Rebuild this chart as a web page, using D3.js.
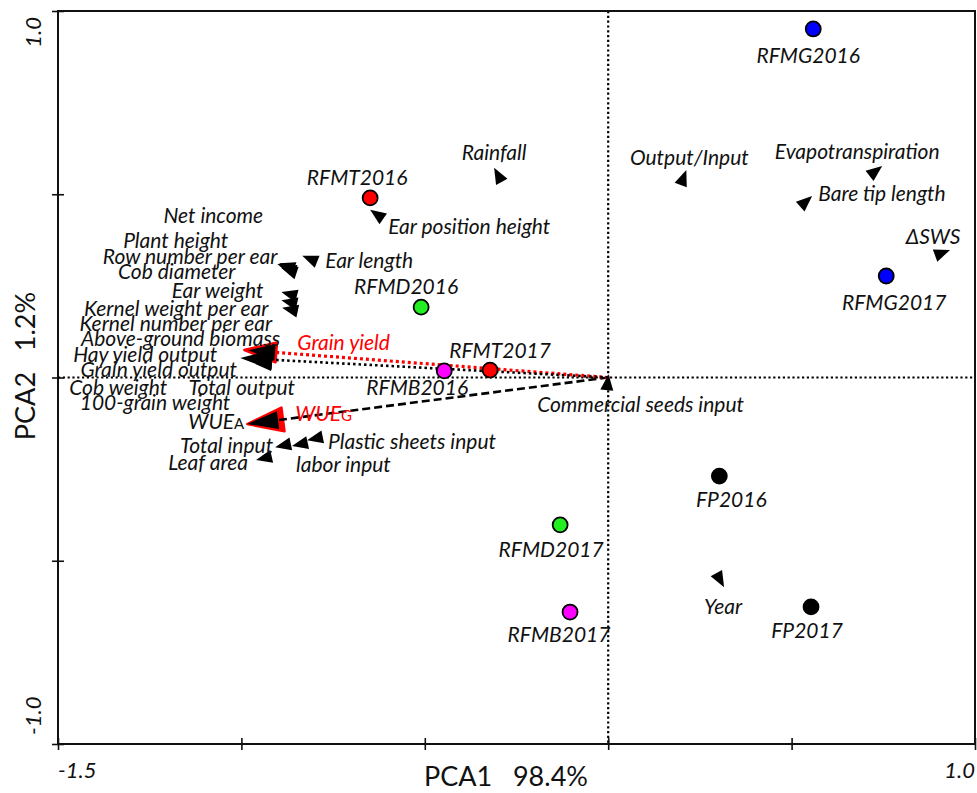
<!DOCTYPE html>
<html>
<head>
<meta charset="utf-8">
<script src="https://cdn.jsdelivr.net/npm/d3@7"></script>
<style>
  html, body { margin: 0; padding: 0; background: #fff; }
  svg { display: block; }
  text { font-family: Lato, "Open Sans", sans-serif; }
</style>
</head>
<body>
<svg id="chart" width="977" height="793"></svg>
<script>
// ---------------- DATA ----------------
const xTicks = [-1.5, -1.0, -0.5, 0, 0.5, 1.0];
const xTickLabels = ["-1.5", "", "", "", "", "1.0"];
const yTicks = [-1.0, -0.5, 0, 0.5, 1.0];
const yTickLabels = ["-1.0", "", "", "", "1.0"];
const xTitle = "PCA1   98.4%";
const yTitle = "PCA2   1.2%";

// sample (site) scores
const siteNames = ["RFMG2016", "RFMG2017", "RFMT2016", "RFMT2017", "RFMB2016",
                   "RFMD2016", "RFMD2017", "RFMB2017", "FP2016", "FP2017"];
const siteX = [0.559, 0.758, -0.649, -0.322, -0.447, -0.510, -0.131, -0.104, 0.303, 0.553];
const siteY = [0.951, 0.277, 0.490, 0.020, 0.018, 0.192, -0.402, -0.640, -0.269, -0.626];
const siteGroup = ["RFMG", "RFMG", "RFMT", "RFMT", "RFMB", "RFMD", "RFMD", "RFMB", "FP", "FP"];

// variable (arrow) scores
const varNames = ["Rainfall", "Output/Input", "Evapotranspiration", "Bare tip length", "ΔSWS",
  "Ear position height", "Ear length", "Net income", "Plant height", "Row number per ear",
  "Cob diameter", "Ear weight", "Kernel weight per ear", "Kernel number per ear",
  "Above-ground biomass", "Grain yield output", "Cob weight", "Total output", "100-grain weight",
  "Hay yield output", "Grain yield", "WUEG", "WUEA",
  "Total input", "labor input", "Plastic sheets input", "Leaf area",
  "Commercial seeds input", "Year"];
const varX = [-0.311, 0.213, 0.747, 0.556, 0.932,
  -0.649, -0.834, -0.897, -0.894, -0.902,
  -0.891, -0.891, -0.891, -0.889,
  -0.976, -0.971, -0.965, -0.960, -0.962,
  -1.003, -0.992, -0.984, -0.984,
  -0.908, -0.862, -0.821, -0.960,
  0.001, 0.316];
const varY = [0.572, 0.566, 0.577, 0.495, 0.348,
  0.458, 0.332, 0.312, 0.304, 0.310,
  0.299, 0.233, 0.211, 0.190,
  0.070, 0.048, 0.042, 0.053, 0.037,
  0.053, 0.075, -0.127, -0.127,
  -0.190, -0.187, -0.171, -0.225,
  0.009, -0.572];

// ---------------- STYLE / LAYOUT ----------------
const groupColor = { RFMG: "#0000ff", RFMT: "#ff0000", RFMB: "#ff00ff", RFMD: "#22ee22", FP: "#000000" };
const LABEL_SIZE = 21;

// label offsets from the point (px): [dx, dy, anchor]
const siteLabel = {
  RFMG2016: [-5, 26, "middle"], RFMG2017: [8, 26, "middle"], RFMT2016: [-13, -21, "middle"],
  RFMT2017: [10, -21, "middle"], RFMB2016: [-27, 16, "middle"], RFMD2016: [-15, -22, "middle"],
  RFMD2017: [-9, 24, "middle"], RFMB2017: [-11, 21, "middle"], FP2016: [12, 22, "middle"],
  FP2017: [-4, 23, "middle"]
};
const varLabel = {
  "Rainfall": [0, -16, "middle"], "Output/Input": [3, -14, "middle"],
  "Evapotranspiration": [-25, -16, "middle"], "Bare tip length": [6, -4, "start"],
  "ΔSWS": [-17, -14, "middle"], "Ear position height": [18, 16, "start"],
  "Ear length": [23, 4, "start"], "Net income": [-16, -49, "end"],
  "Plant height": [-52, -27, "end"], "Row number per ear": [0, -8, "end"],
  "Cob diameter": [-46, 3, "end"], "Ear weight": [-18, -3, "end"],
  "Kernel weight per ear": [-13, 7, "end"], "Kernel number per ear": [-10, 15, "end"],
  "Above-ground biomass": [30, -14, "end"], "Grain yield output": [-15, 9, "end"],
  "Cob weight": [-87, 24, "end"], "Total output": [39, 28, "end"],
  "100-grain weight": [-25, 38, "end"], "Hay yield output": [-23, -5, "end"],
  "Grain yield": [53, -9, "start"], "WUEG": [48, -12, "start"], "WUEA": [-3, -4, "end"],
  "Total input": [-2, -3, "end"], "labor input": [4, 17, "start"],
  "Plastic sheets input": [21, 0, "start"], "Leaf area": [-8, 2, "end"],
  "Commercial seeds input": [32, 29, "middle"], "Year": [-1, 18, "middle"]
};
// highlighted arrows
const bigArrow = {
  "Hay yield output": { line: "#000", dash: "2.5,3", head: "#000", stroke: "none", L: 32, W: 10 },
  "Grain yield": { line: "#ff0000", dash: "3,3", head: "#000", stroke: "#ff0000", L: 32, W: 10 },
  "WUEG": { line: null, head: "#ff0000", stroke: "#ff0000", L: 36, W: 12 },
  "WUEA": { line: "#000", dash: "8,4", head: "#000", stroke: "none", L: 31, W: 9 }
};
const redLabels = new Set(["Grain yield", "WUEG"]);
const subscriptNames = { "WUEG": ["WUE", "G"], "WUEA": ["WUE", "A"] };

// ---------------- DRAW ----------------
const svg = d3.select("#chart");
const x = d3.scaleLinear().domain([-1.5, 1.0]).range([58, 975]);
const y = d3.scaleLinear().domain([-1.0, 1.0]).range([744, 11]);
const ox = x(0), oy = y(0);

// zero lines (dotted)
svg.append("line").attr("x1", ox).attr("x2", ox).attr("y1", y(1)).attr("y2", y(-1))
  .attr("stroke", "#000").attr("stroke-width", 2.2).attr("stroke-dasharray", "2.2,2.6");
svg.append("line").attr("x1", x(-1.5)).attr("x2", x(1.0)).attr("y1", oy).attr("y2", oy)
  .attr("stroke", "#000").attr("stroke-width", 2.2).attr("stroke-dasharray", "2.2,2.6");

// frame
svg.append("rect").attr("x", x(-1.5)).attr("y", y(1)).attr("width", x(1) - x(-1.5))
  .attr("height", y(-1) - y(1)).attr("fill", "none").attr("stroke", "#111").attr("stroke-width", 2);

// axis ticks (crossing the frame lines)
const xAxisG = svg.append("g").attr("transform", `translate(0,${y(-1) - 6})`)
  .call(d3.axisBottom(x).tickValues(xTicks).tickSize(12).tickFormat(""));
xAxisG.select(".domain").remove();
xAxisG.selectAll(".tick line").attr("stroke", "#111").attr("stroke-width", 1.6);
const yAxisG = svg.append("g").attr("transform", `translate(${x(-1.5) + 6},0)`)
  .call(d3.axisLeft(y).tickValues(yTicks).tickSize(12).tickFormat(""));
yAxisG.select(".domain").remove();
yAxisG.selectAll(".tick line").attr("stroke", "#111").attr("stroke-width", 1.6);

// tick labels (only ends)
xTicks.forEach((t, i) => {
  if (!xTickLabels[i]) return;
  svg.append("text").attr("x", x(t)).attr("y", 778)
    .attr("text-anchor", i === 0 ? "start" : "end")
    .attr("font-size", 22).attr("font-style", "italic").attr("fill", "#111")
    .text(xTickLabels[i]);
});
yTicks.forEach((t, i) => {
  if (!yTickLabels[i]) return;
  const yy = i === 0 ? y(t) - 9 : y(t) + 6;
  svg.append("text").attr("transform", `translate(41,${yy}) rotate(-90)`)
    .attr("text-anchor", i === 0 ? "start" : "end")
    .attr("font-size", 22).attr("font-style", "italic").attr("fill", "#111")
    .text(yTickLabels[i]);
});

// axis titles
svg.append("text").attr("x", 506).attr("y", 786).attr("text-anchor", "middle")
  .attr("font-size", 27).attr("fill", "#111").attr("xml:space", "preserve").text(xTitle);
svg.append("text").attr("transform", `translate(35,366) rotate(-90)`).attr("text-anchor", "middle")
  .attr("font-size", 27).attr("fill", "#111").attr("xml:space", "preserve").text(yTitle);

// arrows
function headPts(tx, ty, L, W) {
  const dx = ox - tx, dy = oy - ty, len = Math.hypot(dx, dy) || 1;
  const ux = dx / len, uy = dy / len, nx = -uy, ny = ux;
  const bx = tx + ux * L, by = ty + uy * L;
  return { pts: [[tx, ty], [bx + nx * W, by + ny * W], [bx - nx * W, by - ny * W]], bx, by };
}
const vars = varNames.map((n, i) => ({ name: n, x: varX[i], y: varY[i] }));
const arrowG = svg.append("g");
// small heads first, big ones after
const ordered = vars.filter(v => !bigArrow[v.name]).concat(
  ["WUEG", "WUEA", "Grain yield", "Hay yield output"].map(n => vars.find(v => v.name === n)));
ordered.forEach(v => {
  const tx = x(v.x), ty = y(v.y);
  const b = bigArrow[v.name];
  if (b) {
    const h = headPts(tx, ty, b.L, b.W);
    if (b.line) {
      arrowG.append("line").attr("x1", ox).attr("y1", oy).attr("x2", h.bx).attr("y2", h.by)
        .attr("stroke", b.line).attr("stroke-width", b.line === "#000" ? 2.6 : 3.2)
        .attr("stroke-dasharray", b.dash);
    }
    arrowG.append("polygon").attr("points", h.pts.map(p => p.join(",")).join(" "))
      .attr("fill", b.head).attr("stroke", b.stroke).attr("stroke-width", b.stroke === "none" ? 0 : 2.5)
      .attr("stroke-linejoin", "round");
  } else {
    const h = headPts(tx, ty, 16, 6.5);
    arrowG.append("polygon").attr("points", h.pts.map(p => p.join(",")).join(" "))
      .attr("fill", "#000");
  }
});

// variable labels
vars.forEach(v => {
  const lay = varLabel[v.name];
  const t = svg.append("text").attr("x", x(v.x) + lay[0]).attr("y", y(v.y) + lay[1])
    .attr("dominant-baseline", "central").attr("text-anchor", lay[2])
    .attr("font-size", LABEL_SIZE).attr("font-style", "italic")
    .attr("fill", redLabels.has(v.name) ? "#ff0000" : "#111");
  const sub = subscriptNames[v.name];
  if (sub) {
    t.append("tspan").text(sub[0]);
    t.append("tspan").attr("font-size", 15).attr("font-style", "normal").attr("dy", 3).text(sub[1]);
  } else {
    t.text(v.name);
  }
});

// sites
const sites = siteNames.map((n, i) => ({ name: n, x: siteX[i], y: siteY[i], g: siteGroup[i] }));
svg.append("g").selectAll("circle").data(sites).join("circle")
  .attr("cx", d => x(d.x)).attr("cy", d => y(d.y)).attr("r", 7.5)
  .attr("fill", d => groupColor[d.g]).attr("stroke", "#000").attr("stroke-width", 1.8);
svg.append("g").selectAll("text").data(sites).join("text")
  .attr("x", d => x(d.x) + siteLabel[d.name][0]).attr("y", d => y(d.y) + siteLabel[d.name][1])
  .attr("text-anchor", d => siteLabel[d.name][2]).attr("dominant-baseline", "central")
  .attr("font-size", LABEL_SIZE).attr("font-style", "italic").attr("fill", "#111")
  .text(d => d.name);
</script>
</body>
</html>
